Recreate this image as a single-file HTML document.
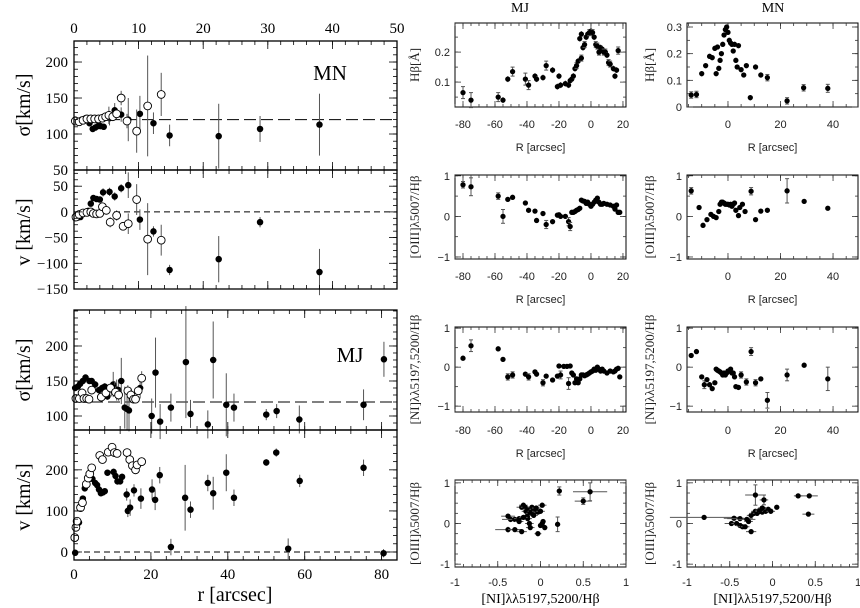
<!DOCTYPE html>
<html><head><meta charset="utf-8"><style>
html,body{margin:0;padding:0;background:#fff;}
svg{display:block;}
.serif{font-family:"Liberation Serif",serif;}
.sans{font-family:"Liberation Sans",sans-serif;}
</style></head><body>
<svg id="fig" width="860" height="608" viewBox="0 0 860 608" xmlns="http://www.w3.org/2000/svg"></svg>
<script>
// ---- data (x, y, err) ----
const mnSigFilled=[[0.2,120,4],[0.7,118,4],[1.2,120,4],[1.8,122,4],[2.4,115,4],[2.9,107,4],[3.3,109,4],[3.7,111,4],[4.1,111,4],[4.6,110,4],[5.5,122,10],[6.3,133,10],[7.3,127,10],[8.4,120,30],[10.2,128,25],[12.3,115,15],[14.8,98,15],[22.4,97,45],[28.8,107,18],[38,113,43]];
const mnSigOpen=[[0.2,118,3],[0.8,117,3],[1.4,119,3],[2.0,121,3],[2.6,121,3],[3.2,121,3],[3.8,121,3],[4.4,122,3],[4.9,124,4],[5.4,126,12],[6.0,124,5],[6.6,128,5],[7.3,150,10],[8.2,118,10],[9.7,104,30],[11.4,139,70],[13.5,155,30]];
const mnVFilled=[[0.2,-12,3],[0.6,-11,3],[1.0,-10,3],[1.5,-3,3],[2.2,2,3],[2.6,16,3],[3.0,27,3],[3.5,25,3],[4.0,24,3],[4.5,38,8],[5.5,39,8],[6.3,30,8],[7.3,46,8],[8.4,52,25],[10.2,-15,20],[12.3,-38,10],[14.8,-113,10],[22.4,-92,45],[28.8,-20,10],[38,-117,45]];
const mnVOpen=[[0.3,-10,3],[0.8,-5,3],[1.4,-2,3],[2.0,-1,3],[2.6,0,3],[3.0,-3,3],[3.5,-4,3],[4.0,-3,3],[4.4,10,5],[5.0,3,5],[5.6,-20,10],[6.6,-7,10],[7.6,-28,5],[8.4,-23,20],[9.7,24,30],[11.4,-53,70],[13.5,-55,30]];
const mjSigFilled=[[0.3,140,4],[1,142,4],[1.6,146,4],[2.3,150,4],[3,155,4],[4,150,4],[4.6,150,4],[5.5,145,5],[6.5,137,5],[7.3,140,5],[8,142,5],[8.7,128,5],[9.7,138,10],[10.2,145,18],[10.6,140,10],[11.1,137,15],[11.6,137,15],[12.3,150,33],[13.2,112,30],[13.8,110,30],[14.3,108,30],[17.2,140,15],[20.2,100,25],[21.2,162,50],[22.4,92,25],[25.2,112,20],[29.1,177,80],[30.3,103,20],[34.8,88,20],[36.2,180,55],[39.6,116,45],[41.6,112,20],[50,102,8],[52.7,107,10],[58.6,95,20],[75.3,116,22],[80.6,181,25]];
const mjSigOpen=[[0.5,125,4],[1.4,125,4],[2.1,133,4],[2.6,125,4],[3.3,125,4],[3.9,124,4],[4.6,137,4],[7.1,127,6],[8.3,133,6],[9.5,140,6],[10.8,134,8],[11.6,130,8],[14.0,136,8],[14.8,130,8],[15.5,124,6],[16.0,124,6],[16.7,136,6],[17.6,154,10]];
const mjVFilled=[[0.3,-2,3],[1.3,72,5],[2.3,130,5],[2.8,155,5],[4.0,178,5],[4.8,178,5],[5.5,168,5],[6.0,163,5],[6.5,152,5],[7,143,5],[7.5,145,5],[8,148,5],[8.7,193,5],[10.3,195,8],[10.8,185,8],[11.3,172,8],[12,172,8],[12.5,183,8],[13.7,140,15],[14,100,15],[14.6,108,20],[15.6,150,15],[17.4,130,25],[20.3,152,25],[21.1,127,25],[22.3,187,20],[25.2,12,20],[28.9,132,80],[30.3,103,20],[34.8,168,20],[36.2,143,40],[39.6,193,45],[41.6,132,20],[50,218,8],[52.6,242,10],[55.7,8,25],[58.7,173,15],[75.3,205,20],[80.5,-3,10]];
const mjVOpen=[[0.2,35,5],[0.5,60,5],[0.8,75,5],[1.7,108,5],[2.2,120,5],[3.2,165,5],[3.7,180,5],[4.1,190,5],[4.6,205,5],[6.7,235,6],[7.4,225,6],[8.9,243,6],[9.9,255,6],[10.5,242,6],[11.2,240,6],[13.8,242,8],[14.5,225,8],[15.2,210,8],[16.0,200,8],[16.4,212,8],[17.6,220,8]];
const mjHb=[[-80,0.065,0.02],[-75,0.04,0.025],[-58,0.05,0.015],[-55,0.04,0.01],[-52,0.11,0.01],[-49,0.135,0.015],[-41,0.11,0.02],[-39,0.09,0.015],[-35,0.12,0.01],[-34,0.11,0.01],[-30,0.115,0.01],[-28,0.155,0.015],[-24,0.14,0.01],[-21,0.085,0.01],[-20,0.12,0.01],[-19,0.09,0.01],[-16,0.095,0.01],[-14,0.09,0.01],[-13,0.105,0.01],[-12,0.11,0.01],[-11,0.12,0.01],[-10,0.145,0.01],[-9,0.155,0.01],[-8,0.17,0.01],[-7,0.245,0.01],[-6,0.26,0.01],[-6,0.18,0.01],[-5,0.215,0.01],[-4,0.225,0.01],[-3,0.25,0.01],[-2,0.26,0.01],[-1,0.265,0.01],[0,0.27,0.01],[1,0.265,0.01],[2,0.25,0.01],[3,0.225,0.01],[4,0.22,0.01],[5,0.2,0.01],[6,0.215,0.01],[7,0.21,0.01],[8,0.2,0.01],[9,0.2,0.01],[10,0.19,0.01],[11,0.165,0.01],[12,0.16,0.01],[14,0.145,0.01],[15,0.12,0.01],[16,0.14,0.01],[17,0.205,0.012]];
const mnHb=[[-14,0.045,0.012],[-12,0.047,0.012],[-10,0.125,0.01],[-8.5,0.155,0.008],[-7,0.19,0.008],[-6,0.185,0.008],[-5,0.22,0.008],[-4,0.225,0.008],[-4.5,0.125,0.008],[-3.5,0.145,0.008],[-3,0.175,0.008],[-2.5,0.2,0.008],[-2,0.235,0.008],[-1.5,0.27,0.008],[-1,0.29,0.008],[-0.5,0.3,0.008],[0,0.28,0.008],[0.5,0.25,0.008],[1,0.24,0.008],[1.5,0.235,0.008],[2,0.21,0.008],[2.5,0.235,0.008],[3,0.175,0.008],[3.5,0.15,0.008],[4,0.23,0.008],[5,0.14,0.008],[6,0.12,0.008],[7,0.155,0.008],[8.5,0.035,0.01],[10.5,0.15,0.01],[12.5,0.12,0.01],[15,0.11,0.012],[22.5,0.023,0.012],[28.8,0.072,0.012],[38,0.07,0.015]];
const mjOiii=[[-80,0.78,0.08],[-75,0.73,0.22],[-58,0.5,0.08],[-55,0.0,0.17],[-52,0.42,0.03],[-49,0.47,0.03],[-41,0.33,0.03],[-39,0.15,0.05],[-35,0.13,0.05],[-34,-0.1,0.03],[-30,0.07,0.03],[-28,-0.2,0.1],[-24,-0.13,0.03],[-21,0.03,0.05],[-20,0.04,0.05],[-19,0.0,0.05],[-16,0.0,0.03],[-14,-0.13,0.1],[-13,-0.25,0.1],[-12,0.1,0.03],[-11,0.1,0.03],[-10,0.12,0.03],[-9,0.15,0.03],[-8,0.17,0.03],[-7,0.2,0.03],[-6,0.4,0.03],[-5,0.38,0.03],[-4,0.37,0.03],[-3,0.32,0.03],[-2,0.35,0.03],[-1,0.3,0.03],[0,0.25,0.03],[1,0.3,0.03],[2,0.35,0.03],[3,0.4,0.03],[4,0.45,0.03],[5,0.35,0.03],[6,0.3,0.03],[7,0.3,0.03],[8,0.32,0.03],[10,0.3,0.03],[12,0.28,0.03],[14,0.25,0.03],[15,0.18,0.03],[16,0.28,0.03],[17,0.1,0.03],[18,0.1,0.03]];
const mnOiii=[[-14,0.63,0.08],[-11,0.22,0.03],[-9.5,-0.22,0.06],[-8,-0.08,0.03],[-6.5,0.05,0.03],[-5.5,0.0,0.03],[-4.5,-0.03,0.03],[-3.5,0.12,0.03],[-3,0.3,0.03],[-2.5,0.35,0.03],[-2,0.35,0.03],[-1.5,0.33,0.03],[-1,0.3,0.03],[-0.5,0.3,0.03],[0,0.3,0.03],[0.5,0.28,0.03],[1,0.3,0.03],[1.5,0.25,0.03],[2,0.3,0.03],[2.5,0.33,0.03],[3,0.15,0.03],[4,0.02,0.03],[4.5,0.22,0.03],[5.5,0.3,0.03],[6.5,0.12,0.03],[8.8,0.62,0.09],[10.5,-0.08,0.03],[12.5,0.13,0.03],[15,0.15,0.03],[22.5,0.63,0.3],[29,0.37,0.03],[38,0.2,0.03]];
const mjNi=[[-80,0.23,0.03],[-75,0.55,0.15],[-58,0.47,0.06],[-55,0.2,0.03],[-52,-0.25,0.08],[-49,-0.2,0.08],[-41,-0.18,0.06],[-39,-0.25,0.08],[-35,-0.12,0.05],[-34,-0.18,0.05],[-30,-0.4,0.08],[-28,-0.23,0.03],[-24,-0.33,0.06],[-21,-0.23,0.06],[-20,0.03,0.03],[-19,-0.2,0.1],[-17,0.02,0.03],[-15,0.02,0.03],[-14,-0.42,0.15],[-13,0.03,0.05],[-12,-0.15,0.05],[-11,-0.2,0.05],[-10,-0.4,0.05],[-9,-0.3,0.05],[-8,-0.4,0.05],[-7,-0.3,0.05],[-6,-0.2,0.03],[-5,-0.2,0.03],[-4,-0.22,0.03],[-3,-0.2,0.03],[-2,-0.18,0.03],[-1,-0.15,0.03],[0,-0.12,0.03],[1,-0.1,0.03],[2,-0.05,0.03],[3,-0.08,0.03],[4,0.0,0.03],[5,-0.05,0.03],[6,-0.1,0.03],[7,-0.05,0.03],[8,-0.1,0.03],[10,-0.15,0.03],[12,-0.1,0.03],[14,-0.12,0.03],[15,-0.1,0.03],[16,-0.05,0.03],[17,-0.03,0.03],[18,-0.25,0.05]];
const mnNi=[[-14,0.3,0.05],[-12,0.4,0.05],[-10,-0.25,0.05],[-9,-0.45,0.1],[-8,-0.32,0.05],[-7,-0.45,0.05],[-6,-0.55,0.05],[-5,-0.4,0.05],[-4.5,-0.05,0.03],[-4,-0.08,0.03],[-3.5,-0.1,0.03],[-3,-0.12,0.03],[-2.5,-0.15,0.03],[-2,-0.2,0.03],[-1.5,-0.15,0.03],[-1,-0.2,0.03],[-0.5,-0.15,0.03],[0,-0.1,0.03],[0.5,-0.1,0.03],[1,-0.05,0.03],[1.5,-0.15,0.03],[2,-0.15,0.03],[2.5,-0.25,0.03],[3,-0.5,0.05],[4,-0.52,0.05],[5,-0.2,0.08],[7,-0.38,0.08],[8.8,0.4,0.1],[10.5,-0.4,0.08],[12.5,-0.3,0.05],[15,-0.85,0.2],[22.5,-0.2,0.15],[29,0.05,0.03],[38,-0.3,0.3]];
const mjDiag=[[-0.38,0.18,0.05],[-0.38,-0.15,0.07],[-0.35,0.1,0.04],[-0.3,0.1,0.04],[-0.3,-0.15,0.04],[-0.25,0.12,0.04],[-0.22,-0.2,0.06],[-0.22,0.4,0.04],[-0.2,0.45,0.04],[-0.18,0.4,0.04],[-0.17,0.3,0.04],[-0.15,0.35,0.04],[-0.15,0.2,0.04],[-0.15,0.12,0.04],[-0.13,0.0,0.04],[-0.12,-0.1,0.04],[-0.1,0.4,0.04],[-0.1,0.3,0.04],[-0.08,0.35,0.04],[-0.05,0.3,0.04],[-0.05,0.38,0.04],[-0.03,0.28,0.04],[0.0,0.3,0.04],[0.02,0.45,0.04],[0.0,-0.05,0.04],[0.02,0.0,0.04],[0.03,0.05,0.04],[0.05,-0.1,0.04],[-0.03,-0.25,0.05],[0.2,-0.02,0.18],[0.22,0.8,0.1],[0.5,0.55,0.08],[0.58,0.78,0.22],[-0.25,0.05,0.04],[-0.2,0.15,0.04],[-0.12,0.25,0.04],[-0.08,0.2,0.04]];
const mjDiagXerr=[0.08,0.15,0.1,0.08,0.08,0.06,0.06,0.06,0.05,0.05,0.05,0.05,0.05,0.05,0.05,0.05,0.05,0.05,0.05,0.05,0.05,0.05,0.05,0.05,0.03,0.03,0.03,0.03,0.04,0.03,0.03,0.1,0.2,0.05,0.05,0.05,0.05];
const mnDiag=[[-0.8,0.15,0.03],[-0.45,0.13,0.03],[-0.48,0.0,0.05],[-0.42,0.0,0.05],[-0.38,-0.05,0.03],[-0.35,-0.08,0.03],[-0.32,-0.08,0.03],[-0.38,0.12,0.03],[-0.3,0.1,0.03],[-0.25,-0.2,0.06],[-0.28,0.05,0.03],[-0.25,0.2,0.03],[-0.22,0.25,0.03],[-0.2,0.7,0.25],[-0.2,0.3,0.03],[-0.18,0.25,0.03],[-0.15,0.3,0.03],[-0.12,0.28,0.03],[-0.1,0.58,0.12],[-0.1,0.35,0.03],[-0.08,0.3,0.03],[-0.05,0.35,0.03],[-0.02,0.3,0.03],[0.05,0.4,0.03],[0.3,0.68,0.06],[0.43,0.68,0.06],[0.42,0.23,0.03],[-0.15,0.33,0.03],[-0.12,0.38,0.03]];
const mnDiagXerr=[0.4,0.12,0.08,0.06,0.05,0.05,0.05,0.15,0.1,0.06,0.05,0.05,0.05,0.12,0.05,0.05,0.05,0.05,0.05,0.05,0.05,0.05,0.05,0.03,0.05,0.1,0.07,0.05,0.05];
const leftXTicksTop=[0,10,20,30,40,50];
const leftXTicksBot=[0,20,40,60,80];
const mjRTicks=[-80,-60,-40,-20,0,20];
const mnRTicks=[0,20,40];
const diagTicks=[-1,-0.5,0,0.5,1];

const NS="http://www.w3.org/2000/svg";
const svg=document.getElementById('fig');
function el(tag,attrs,parent,text){const e=document.createElementNS(NS,tag);for(const k in attrs)e.setAttribute(k,attrs[k]);if(text!==undefined)e.textContent=text;(parent||svg).appendChild(e);return e;}

function panel(name,box,xr,yr){
  const g=el('g',{});
  
  
  const sx=v=>box[0]+(v-xr[0])/(xr[1]-xr[0])*(box[2]-box[0]);
  const sy=v=>box[3]-(v-yr[0])/(yr[1]-yr[0])*(box[3]-box[1]);
  return {g,sx,sy,box};
}
function frame(p,col,w){el('rect',{x:p.box[0],y:p.box[1],width:p.box[2]-p.box[0],height:p.box[3]-p.box[1],fill:'none',stroke:col||'#000','stroke-width':w||1.3},p.g);}
function xticks(p,start,end,step,len,both,col){
  for(let v=start;v<=end+1e-9;v+=step){const x=p.sx(v);
    el('line',{x1:x,x2:x,y1:p.box[3],y2:p.box[3]-len,stroke:col||'#000','stroke-width':0.8},p.g);
    if(both)el('line',{x1:x,x2:x,y1:p.box[1],y2:p.box[1]+len,stroke:col||'#000','stroke-width':0.8},p.g);}
}
function yticks(p,start,end,step,len,both,col){
  for(let v=start;v<=end+1e-9;v+=step){const y=p.sy(v);
    el('line',{x1:p.box[0],x2:p.box[0]+len,y1:y,y2:y,stroke:col||'#000','stroke-width':0.8},p.g);
    if(both)el('line',{x1:p.box[2],x2:p.box[2]-len,y1:y,y2:y,stroke:col||'#000','stroke-width':0.8},p.g);}
}
function points(p,data,open,name,r,xerr){
  data.forEach((d,i)=>{
    const x=p.sx(d[0]),y=p.sy(d[1]);
    const ey=Math.abs(p.sy(d[1]+d[2])-y);
    const eg=el('g',{},p.g);
    
    
    el('line',{x1:x,x2:x,y1:y-ey,y2:y+ey,stroke:'#555','stroke-width':1},eg);
    if(xerr){const ex=Math.abs(p.sx(d[0]+xerr[i])-x);el('line',{x1:x-ex,x2:x+ex,y1:y,y2:y,stroke:'#555','stroke-width':1},eg);}
    if(r<2.5&&ey>3){el('line',{x1:x-2,x2:x+2,y1:y-ey,y2:y-ey,stroke:'#555','stroke-width':1},eg);el('line',{x1:x-2,x2:x+2,y1:y+ey,y2:y+ey,stroke:'#555','stroke-width':1},eg);}
    el('circle',{cx:x,cy:y,r:r,fill:open?'#fff':'#000',stroke:'#000','stroke-width':0.9},eg);
  });
}
function hline(p,v,dash,name){const l=el('line',{x1:p.box[0],x2:p.box[2],y1:p.sy(v),y2:p.sy(v),stroke:'#000','stroke-width':1,'stroke-dasharray':dash},p.g);}
function txt(x,y,s,cls,size,anchor,rot,name,fill){
  const t=el('text',{x:x,y:y,'font-size':size,'text-anchor':anchor||'middle',class:cls,fill:fill||'#000'},svg,s);
  if(rot)t.setAttribute('transform','rotate('+rot+' '+x+' '+y+')');
  
  
  return t;
}

// ===== Left: MN sigma =====
let p=panel('mn-sigma-panel',[74,41,397,170],[0,50],[50,229.2]);
hline(p,120,'12 5','mn-sigma-reference-line');
points(p,mnSigFilled,false,'mn-sigma-filled',2.8);
points(p,mnSigOpen,true,'mn-sigma-open',3.9);
xticks(p,0,50,2,4,true);xticks(p,0,50,10,8,true);yticks(p,60,220,10,4,true);yticks(p,50,200,50,8,true);frame(p);
leftXTicksTop.forEach(v=>txt(p.sx(v),33,String(v),'serif',15,'middle',0,'top-x-tick-label'));
[50,100,150,200].forEach(v=>txt(68,p.sy(v)+5,String(v),'serif',15,'end',0,'mn-sigma-y-tick'));
txt(330,80,'MN','serif',21,'middle',0,'mn-panel-label');
txt(30,105,'σ[km/s]','serif',20,'middle',-90,'mn-sigma-y-title');

// ===== Left: MN v =====
p=panel('mn-velocity-panel',[74,170,397,289],[0,50],[-150,81.5]);
hline(p,0,'6 4','mn-velocity-zero-line');
points(p,mnVFilled,false,'mn-v-filled',2.8);
points(p,mnVOpen,true,'mn-v-open',3.9);
xticks(p,0,50,2,4,true);xticks(p,0,50,10,8,true);yticks(p,-150,75,12.5,4,true);yticks(p,-150,50,50,8,true);frame(p);
[-150,-100,-50,0,50].forEach(v=>txt(68,p.sy(v)+5,String(v).replace('-','−'),'serif',15,'end',0,'mn-v-y-tick'));
txt(30,232,'v  [km/s]','serif',20,'middle',-90,'mn-v-y-title');

// ===== Left: MJ sigma =====
p=panel('mj-sigma-panel',[74,310,397,430],[0,84],[80,251.4]);
hline(p,120,'12 5','mj-sigma-reference-line');
points(p,mjSigFilled,false,'mj-sigma-filled',2.8);
points(p,mjSigOpen,true,'mj-sigma-open',3.9);
xticks(p,0,84,4,4,true);xticks(p,0,80,20,8,true);yticks(p,80,250,10,4,true);yticks(p,100,200,50,8,true);frame(p);
[100,150,200].forEach(v=>txt(68,p.sy(v)+5,String(v),'serif',15,'end',0,'mj-sigma-y-tick'));
txt(350,362,'MJ','serif',21,'middle',0,'mj-panel-label');
txt(30,370,'σ[km/s]','serif',20,'middle',-90,'mj-sigma-y-title');

// ===== Left: MJ v =====
p=panel('mj-velocity-panel',[74,430,397,560],[0,84],[-19.5,297]);
hline(p,0,'6 4','mj-velocity-zero-line');
points(p,mjVFilled,false,'mj-v-filled',2.8);
points(p,mjVOpen,true,'mj-v-open',3.9);
xticks(p,0,84,4,4,true);xticks(p,0,80,20,8,true);yticks(p,0,290,20,4,true);yticks(p,0,200,100,8,true);frame(p);
[0,100,200].forEach(v=>txt(68,p.sy(v)+5,String(v),'serif',15,'end',0,'mj-v-y-tick'));
leftXTicksBot.forEach(v=>txt(p.sx(v),579,String(v),'serif',15,'middle',0,'bottom-x-tick-label'));
txt(30,497,'v  [km/s]','serif',20,'middle',-90,'mj-v-y-title');
txt(235,601,'r  [arcsec]','serif',20,'middle',0,'x-axis-title');

// ===== Right panels =====
txt(520,12,'MJ','serif',14,'middle',0,'mj-column-title');
txt(773,12,'MN','serif',14,'middle',0,'mn-column-title');

function mk(name,box,xr,yr,data,xmaj,xmin,ymaj,ymin,yvals,xl,labY,title,ylX,ylabel,xerr){
  const q=panel(name,box,xr,yr);
  el('rect',{x:box[0],y:box[1],width:box[2]-box[0],height:box[3]-box[1],fill:'none',stroke:'#000','stroke-width':1},q.g);
  xticks(q,xmin[0],xmin[1],xmin[2],3,true,'#333');xticks(q,xmaj[0],xmaj[1],xmaj[2],6,true,'#333');
  yticks(q,ymin[0],ymin[1],ymin[2],3,true,'#333');yticks(q,ymaj[0],ymaj[1],ymaj[2],6,true,'#333');
  points(q,data,false,name,2.2,xerr);
  yvals.forEach(v=>txt(box[0]-5,q.sy(v[0])+4,v[1],'sans',11,'end',0,name+'-y-tick','#222'));
  xl.forEach(v=>txt(q.sx(v),labY,String(v),'sans',11,'middle',0,name+'-x-tick','#222'));
  if(title==='R')txt((box[0]+box[2])/2,labY+23,'R [arcsec]','sans',11,'middle',0,name+'-x-title','#222');
  else txt((box[0]+box[2])/2,labY+17,'[NI]λλ5197,5200/Hβ','serif',14,'middle',0,name+'-x-title');
  txt(ylX,(box[1]+box[3])/2,ylabel,'serif',13,'middle',-90,name+'-y-title','#222');
}
mk('mj-hbeta-panel',[455,23,626,107],[-85,21.9],[0.017,0.297],mjHb,[-80,20,20],[-85,20,5],[0.1,0.2,0.1],[0.05,0.25,0.05],[[0.1,'0.1'],[0.2,'0.2']],mjRTicks,128,'R',419,'Hβ[Å]');
mk('mn-hbeta-panel',[687,23,858,107],[-15.6,49.5],[0,0.315],mnHb,[0,40,20],[-15,45,5],[0,0.3,0.1],[0,0.3,0.05],[[0,'0'],[0.1,'0.1'],[0.2,'0.2'],[0.3,'0.3']],mnRTicks,128,'R',654,'Hβ[Å]');
mk('mj-oiii-panel',[455,175,626,259],[-85,21.9],[-1.05,1.02],mjOiii,[-80,20,20],[-85,20,5],[-1,1,1],[-1,1,0.5],[[1,'1'],[0,'0'],[-1,'−1']],mjRTicks,280,'R',419,'[OIII]λ5007/Hβ');
mk('mn-oiii-panel',[687,175,858,259],[-15.6,49.5],[-1.05,1.02],mnOiii,[0,40,20],[-15,45,5],[-1,1,1],[-1,1,0.5],[[1,'1'],[0,'0'],[-1,'−1']],mnRTicks,280,'R',654,'[OIII]λ5007/Hβ');
mk('mj-ni-panel',[455,327,626,412],[-85,21.9],[-1.15,1.03],mjNi,[-80,20,20],[-85,20,5],[-1,1,1],[-1,1,0.5],[[1,'1'],[0,'0'],[-1,'−1']],mjRTicks,434,'R',419,'[NI]λλ5197,5200/Hβ');
mk('mn-ni-panel',[687,327,858,412],[-15.6,49.5],[-1.15,1.03],mnNi,[0,40,20],[-15,45,5],[-1,1,1],[-1,1,0.5],[[1,'1'],[0,'0'],[-1,'−1']],mnRTicks,434,'R',654,'[NI]λλ5197,5200/Hβ');
mk('mj-diagnostic-panel',[455,480,626,567],[-1,1],[-1.07,1.07],mjDiag,[-1,1,0.5],[-1,1,0.1],[-1,1,1],[-1,1,0.25],[[1,'1'],[0,'0'],[-1,'-1']],diagTicks,586,'D',419,'[OIII]λ5007/Hβ',mjDiagXerr);
mk('mn-diagnostic-panel',[687,480,858,567],[-1,1],[-1.07,1.07],mnDiag,[-1,1,0.5],[-1,1,0.1],[-1,1,1],[-1,1,0.25],[[1,'1'],[0,'0'],[-1,'-1']],diagTicks,586,'D',654,'[OIII]λ5007/Hβ',mnDiagXerr);
</script>
</body></html>
